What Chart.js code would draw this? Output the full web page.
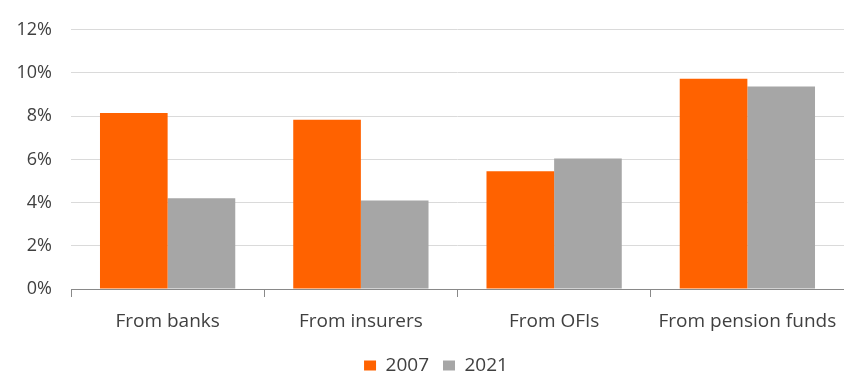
<!DOCTYPE html>
<html>
<head>
<meta charset="utf-8">
<script src="https://cdn.jsdelivr.net/npm/chart.js@4/dist/chart.umd.min.js"></script>
<style>
  html, body { margin: 0; padding: 0; background: #fff; }
  #wrap { width: 844px; height: 374px; position: relative; }
</style>
</head>
<body>
<div id="wrap"><canvas id="chart"></canvas></div>
<script>
// Categories and series (percent)
const categories = ['From banks', 'From insurers', 'From OFIs', 'From pension funds'];
const values2007 = [8.15, 7.83, 5.45, 9.73];
const values2021 = [4.2, 4.1, 6.04, 9.37];
const yTicks = [0, 2, 4, 6, 8, 10, 12];

const textColor = '#404040';
const fontFamily = "'Open Sans', 'Noto Sans', sans-serif";

// nudge the legend a little right of the canvas centre
const legendShift = {
    id: 'legendShift',
    afterLayout(chart) {
        const lg = chart.legend;
        if (!lg) return;
        lg.left += 14;
        lg.right += 14;
    }
};

document.addEventListener('DOMContentLoaded', function () {
    const ctx = document.getElementById('chart').getContext('2d');
    new Chart(ctx, {
        type: 'bar',
        data: {
            labels: categories,
            datasets: [{
                label: '2007',
                data: values2007,
                backgroundColor: '#ff6200'
            }, {
                label: '2021',
                data: values2021,
                backgroundColor: '#a6a6a6'
            }]
        },
        options: {
            responsive: true,
            maintainAspectRatio: false,
            animation: false,
            datasets: {
                bar: { categoryPercentage: 0.7, barPercentage: 1.0 }
            },
            layout: {
                padding: { top: 19, right: 0, bottom: -11, left: 0 }
            },
            scales: {
                x: {
                    grid: {
                        display: true,
                        drawOnChartArea: false,
                        offset: true,
                        tickLength: 8,
                        color: '#898989'
                    },
                    border: { display: true, color: '#898989', width: 1 },
                    ticks: {
                        color: textColor,
                        padding: 13,
                        font: { family: fontFamily, size: 19 },
                        maxRotation: 0
                    },
                    afterFit: function (scale) {
                        scale.height = 53;
                        scale.paddingLeft = 0;
                        scale.paddingRight = 0;
                    }
                },
                y: {
                    min: 0,
                    max: 12,
                    afterBuildTicks: function (scale) {
                        scale.ticks = yTicks.map(v => ({ value: v }));
                    },
                    grid: {
                        color: '#dadada',
                        drawTicks: false
                    },
                    border: { display: false },
                    ticks: {
                        color: textColor,
                        padding: 19,
                        font: { family: fontFamily, size: 18 },
                        callback: v => v + '%'
                    },
                    afterFit: function (scale) { scale.width = 71; }
                }
            },
            plugins: {
                legend: {
                    display: true,
                    position: 'bottom',
                    labels: {
                        color: textColor,
                        boxWidth: 12,
                        boxHeight: 10,
                        padding: 14,
                        font: { family: fontFamily, size: 19 }
                    }
                },
                tooltip: { enabled: false }
            }
        },
        plugins: [legendShift]
    });
});
</script>
</body>
</html>
